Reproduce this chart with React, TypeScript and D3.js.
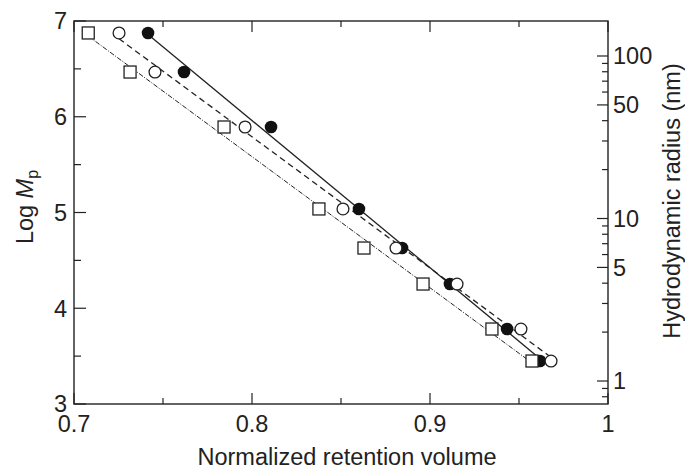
import React from "react";
import * as d3 from "d3";

// ---- data ----
const logMp = [6.875, 6.467, 5.893, 5.037, 4.629, 4.253, 3.783, 3.449];
const vSquare = [0.708, 0.7315, 0.7843, 0.8376, 0.8629, 0.8961, 0.9348, 0.9573];
const vOpen = [0.7253, 0.7455, 0.7961, 0.8511, 0.8809, 0.9152, 0.9511, 0.968];
const vFilled = [0.7416, 0.7618, 0.8107, 0.8601, 0.8843, 0.9112, 0.9433, 0.9618];

const xTicks = [0.7, 0.8, 0.9, 1];
const xTickLabels = ["0.7", "0.8", "0.9", "1"];
const xMinor = [0.75, 0.85, 0.95];
const yTicks = [3, 4, 5, 6, 7];
const yMinor = [3.5, 4.5, 5.5, 6.5];
const rLabeled = [1, 5, 10, 50, 100];
const rMinor = [0.8, 0.9, 2, 3, 4, 6, 7, 8, 9, 20, 30, 40, 60, 70, 80, 90];

const W = 685;
const H = 473;
const L = 74, R = 608, T = 21, B = 404;
const FONT = "'Liberation Sans', Arial, Helvetica, sans-serif";
const INK = "#222";
const FS = 23.5;

function fitLine(xs: number[], ys: number[]) {
  const mx = d3.mean(xs)!, my = d3.mean(ys)!;
  let sxy = 0, sxx = 0;
  xs.forEach((x, i) => { sxy += (x - mx) * (ys[i] - my); sxx += (x - mx) ** 2; });
  const b = sxy / sxx;
  const a = my - b * mx;
  const x0 = d3.min(xs)!, x1 = d3.max(xs)!;
  return [[x0, a + b * x0], [x1, a + b * x1]] as [number, number][];
}

export default function App() {
  const x = d3.scaleLinear().domain([0.7, 1]).range([L, R]);
  const y = d3.scaleLinear().domain([3, 7]).range([B, T]);
  const yR = d3.scaleLog().domain([0.722, 164.2]).range([B, T]);
  const line = d3.line<[number, number]>().x(d => x(d[0])).y(d => y(d[1]));

  const series = [
    { v: vFilled, dash: undefined, w: 1.3 },
    { v: vOpen, dash: "6,4", w: 1.3 },
    { v: vSquare, dash: "5,1.5,1,1.5", w: 1 },
  ];

  return (
    <svg width={W} height={H} style={{ position: "absolute", left: 0, top: 0, background: "#fff" }}
      fontFamily={FONT}>
      <rect x={0} y={0} width={W} height={H} fill="#fff" />
      {/* fit lines */}
      {series.map((s, i) => (
        <path key={i} d={line(fitLine(s.v, logMp))!} fill="none" stroke={INK}
          strokeWidth={s.w} strokeDasharray={s.dash} />
      ))}
      {/* markers */}
      {vFilled.map((v, i) => (
        <circle key={"f" + i} cx={x(v)} cy={y(logMp[i])} r={6.3} fill="#111" />
      ))}
      {vOpen.map((v, i) => (
        <circle key={"o" + i} cx={x(v)} cy={y(logMp[i])} r={5.9} fill="#fff" stroke={INK} strokeWidth={1.3} />
      ))}
      {vSquare.map((v, i) => (
        <rect key={"s" + i} x={x(v) - 6} y={y(logMp[i]) - 6} width={12} height={12}
          fill="#fff" stroke={INK} strokeWidth={1.3} />
      ))}
      {/* frame */}
      <rect x={L} y={T} width={R - L} height={B - T} fill="none" stroke={INK} strokeWidth={1.4} />
      {/* x ticks bottom & top */}
      {xTicks.map((t, i) => (
        <g key={"xt" + i}>
          <line x1={x(t)} x2={x(t)} y1={B} y2={B - 11} stroke={INK} strokeWidth={1.2} />
          <line x1={x(t)} x2={x(t)} y1={T} y2={T + 11} stroke={INK} strokeWidth={1.2} />
          <text x={x(t)} y={432} textAnchor="middle" fontSize={FS} fill={INK}>{xTickLabels[i]}</text>
        </g>
      ))}
      {xMinor.map((t, i) => (
        <g key={"xm" + i}>
          <line x1={x(t)} x2={x(t)} y1={B} y2={B - 6} stroke={INK} strokeWidth={1.2} />
          <line x1={x(t)} x2={x(t)} y1={T} y2={T + 6} stroke={INK} strokeWidth={1.2} />
        </g>
      ))}
      {/* left y ticks */}
      {yTicks.map((t, i) => (
        <g key={"yt" + i}>
          <line x1={L} x2={L + 12} y1={y(t)} y2={y(t)} stroke={INK} strokeWidth={1.2} />
          <text x={67} y={y(t)} dy="0.36em" textAnchor="end" fontSize={FS} fill={INK}>{t}</text>
        </g>
      ))}
      {yMinor.map((t, i) => (
        <line key={"ym" + i} x1={L} x2={L + 7} y1={y(t)} y2={y(t)} stroke={INK} strokeWidth={1.2} />
      ))}
      {/* right log ticks */}
      {rLabeled.map((t, i) => (
        <g key={"rt" + i}>
          <line x1={R} x2={R - 11} y1={yR(t)} y2={yR(t)} stroke={INK} strokeWidth={1.2} />
          <text x={613} y={yR(t)} dy="0.36em" textAnchor="start" fontSize={FS} fill={INK}>{t}</text>
        </g>
      ))}
      {rMinor.map((t, i) => (
        <line key={"rm" + i} x1={R} x2={R - 6} y1={yR(t)} y2={yR(t)} stroke={INK} strokeWidth={1.2} />
      ))}
      {/* axis titles */}
      <text x={347} y={465} textAnchor="middle" fontSize={FS} fill={INK}>Normalized retention volume</text>
      <text transform="translate(33,207) rotate(-90)" textAnchor="middle" fontSize={FS} fill={INK}>
        <tspan>Log </tspan>
        <tspan fontStyle="italic">M</tspan>
        <tspan fontSize={16} dy={5}>p</tspan>
      </text>
      <text transform="translate(680,201) rotate(-90)" textAnchor="middle" fontSize={FS} fill={INK}>
        Hydrodynamic radius (nm)
      </text>
    </svg>
  );
}
